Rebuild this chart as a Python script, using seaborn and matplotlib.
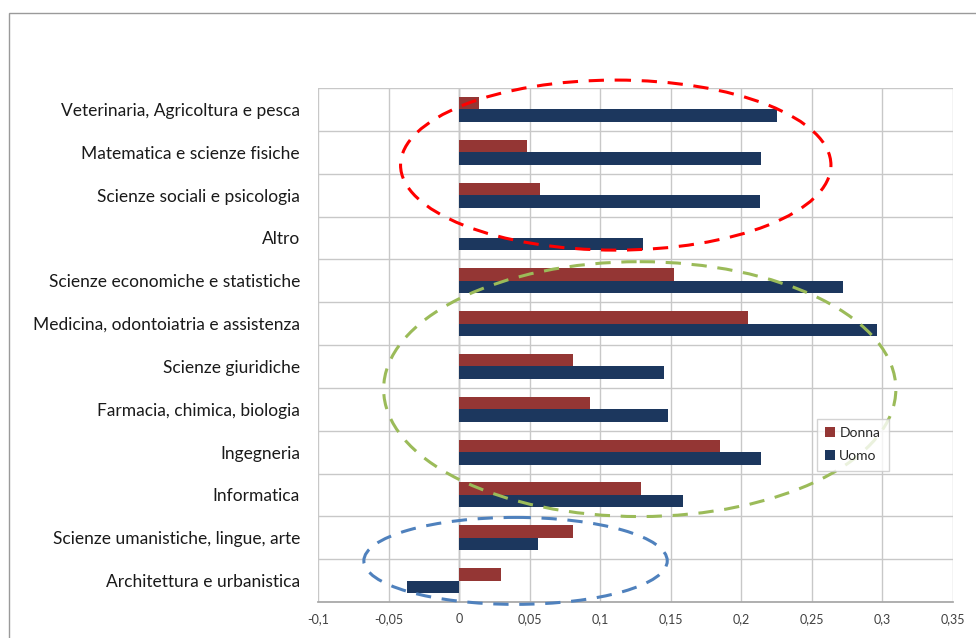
import numpy as np
import pandas as pd
import matplotlib
matplotlib.use("Agg")
import matplotlib.pyplot as plt
from matplotlib.patches import Ellipse, Rectangle
import seaborn as sns

# Faculty groups, top to bottom
categories = [
    "Veterinaria, Agricoltura e pesca",
    "Matematica e scienze fisiche",
    "Scienze sociali e psicologia",
    "Altro",
    "Scienze economiche e statistiche",
    "Medicina, odontoiatria e assistenza",
    "Scienze giuridiche",
    "Farmacia, chimica, biologia",
    "Ingegneria",
    "Informatica",
    "Scienze umanistiche, lingue, arte",
    "Architettura e urbanistica",
]
donna = [0.014, 0.048, 0.057, 0.0, 0.152, 0.205, 0.081, 0.093, 0.185, 0.129, 0.081, 0.030]
uomo = [0.225, 0.214, 0.213, 0.130, 0.272, 0.296, 0.145, 0.148, 0.214, 0.159, 0.056, -0.037]
series_names = ["Donna", "Uomo"]

x_ticks = [-0.1, -0.05, 0, 0.05, 0.1, 0.15, 0.2, 0.25, 0.3, 0.35]
x_tick_labels = ["-0,1", "-0,05", "0", "0,05", "0,1", "0,15", "0,2", "0,25", "0,3", "0,35"]

df = pd.DataFrame({
    "categoria": categories * 2,
    "valore": donna + uomo,
    "sesso": [series_names[0]] * len(categories) + [series_names[1]] * len(categories),
})

sns.set_theme(style="white")
plt.rcParams["font.family"] = ["Lato", "DejaVu Sans"]

fig = plt.figure(figsize=(9.76, 6.38), dpi=100)
ax = fig.add_axes([318 / 976, 1 - 602 / 638, (953 - 318) / 976, (602 - 88) / 638])

palette = {"Donna": "#943634", "Uomo": "#1c375e"}
sns.barplot(data=df, y="categoria", x="valore", hue="sesso", order=categories,
            hue_order=series_names, palette=palette, orient="h", width=0.58,
            edgecolor="none", saturation=1, ax=ax, legend=True)

ax.set_xlim(-0.1, 0.35)
ax.set_ylim(len(categories) - 0.5, -0.5)
ax.set_xticks(x_ticks)
ax.set_xticklabels(x_tick_labels)
ax.set_yticks(range(len(categories)))
ax.set_yticklabels(categories)
ax.set_yticks(np.arange(-0.5, len(categories), 1.0), minor=True)
ax.set_xlabel("")
ax.set_ylabel("")

grid_col = "#c8c8c8"
ax.grid(False)
ax.xaxis.grid(True, which="major", color=grid_col, linewidth=1.0)
ax.yaxis.grid(True, which="minor", color=grid_col, linewidth=1.0)
ax.set_axisbelow(True)
ax.axvline(0, color="#a6a6a6", linewidth=1.0, zorder=0.5)

for side in ["top", "right", "left"]:
    ax.spines[side].set_visible(False)
ax.spines["bottom"].set_color("#a6a6a6")

ax.tick_params(axis="y", which="both", length=0, labelsize=12.5, pad=13, labelcolor="#1a1a1a")
ax.tick_params(axis="x", which="both", length=0, labelsize=9, pad=8, labelcolor="#404040")

# Legend with small square keys
leg = ax.legend(loc="upper left", bbox_to_anchor=(0.775, 0.37), frameon=True,
                fancybox=False, edgecolor="#c8c8c8", fontsize=10,
                handlelength=0.7, handleheight=0.7, handletextpad=0.3,
                labelspacing=0.8, borderpad=0.6)
leg.get_frame().set_linewidth(1.0)

# Dashed group outlines
outlines = [
    (0.111, 1.30, 0.305, 3.97, "#ff0000"),
    (0.128, 6.53, 0.363, 5.95, "#9bbb59"),
    (0.040, 10.54, 0.215, 2.03, "#4f81bd"),
]
for cx, cy, w, h, col in outlines:
    e = Ellipse((cx, cy), w, h, fill=False, edgecolor=col, linewidth=2.2,
                linestyle=(0, (5, 3.5)), clip_on=False, zorder=5)
    ax.add_patch(e)

# Chart frame
frame = Rectangle((9 / 976, -0.05), 1.2, 1 - 13 / 638 + 0.05, transform=fig.transFigure,
                  fill=False, edgecolor="#9a9a9a", linewidth=1.0, clip_on=False)
fig.add_artist(frame)

fig.savefig("out.png", dpi=100, facecolor="white")
